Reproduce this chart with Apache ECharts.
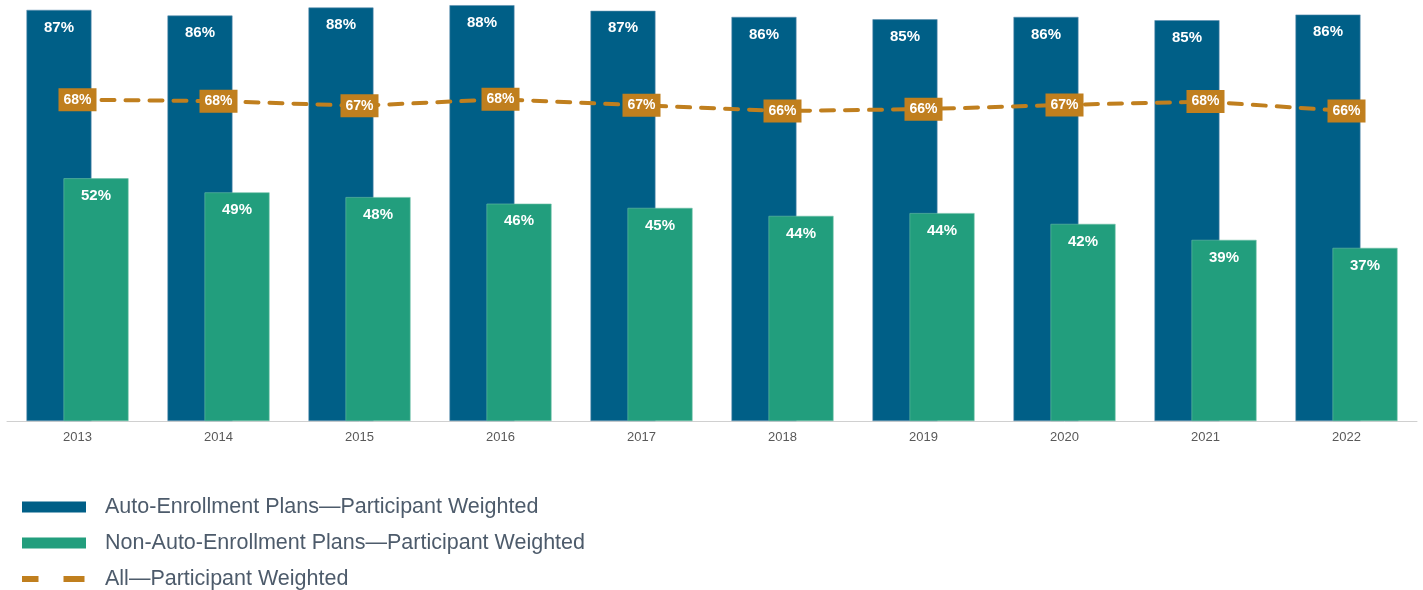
<!DOCTYPE html>
<html>
<head>
<meta charset="utf-8">
<script src="https://cdn.jsdelivr.net/npm/echarts@6/dist/echarts.min.js"></script>
<style>
  html, body { margin: 0; padding: 0; background: #fff; }
  #chart { width: 1423px; height: 590px; }
</style>
</head>
<body>
<div id="chart"></div>
<script>
// hodnoty
const years = ['2013', '2014', '2015', '2016', '2017', '2018', '2019', '2020', '2021', '2022']
const autoPlans = [87.4, 86.2, 87.9, 88.4, 87.2, 85.9, 85.4, 85.9, 85.2, 86.4]
const nonAutoPlans = [51.6, 48.6, 47.6, 46.2, 45.3, 43.6, 44.2, 41.9, 38.5, 36.8]
const allPlans = [68.3, 68.0, 67.0, 68.4, 67.1, 65.9, 66.3, 67.2, 67.9, 65.9]
const seriesNames = [
  'Auto-Enrollment Plans\u2014Participant Weighted',
  'Non-Auto-Enrollment Plans\u2014Participant Weighted',
  'All\u2014Participant Weighted'
]

const BLUE = '#005f87'
const GREEN = '#229e7d'
const ORANGE = '#c07f1e'
const FONT = 'Liberation Sans, Arial, sans-serif'

const chart = echarts.init(document.getElementById('chart'))

const pct = p => Math.round(p.value) + '%'

chart.setOption({
  animation: false,
  textStyle: {fontFamily: FONT},
  grid: {left: 7, right: 6, top: 0, bottom: 169},
  legend: {
    orient: 'vertical',
    left: 22,
    top: 496,
    padding: 0,
    height: 94,
    itemWidth: 64,
    itemHeight: 11,
    itemGap: 14,
    itemStyle: {borderWidth: 0},
    textStyle: {fontSize: 21.5, color: '#4d5b6b', lineHeight: 22, padding: [0, 0, 0, 14]},
    data: [
      {name: seriesNames[0], icon: 'rect', itemStyle: {color: BLUE, borderWidth: 0}},
      {name: seriesNames[1], icon: 'rect', itemStyle: {color: GREEN, borderWidth: 0}},
      {
        name: seriesNames[2],
        // dvě čárky jako v předloze
        icon: 'path://M0,0L0,0M64,11L64,11M0,2.6h16.5v5.8h-16.5zM41.5,2.6h21v5.8h-21z',
        itemStyle: {color: ORANGE, borderWidth: 0}
      }
    ]
  },
  xAxis: {
    type: 'category',
    data: years,
    axisLine: {lineStyle: {color: '#d0d0d0', width: 1}},
    axisTick: {show: false},
    axisLabel: {color: '#595959', fontSize: 13, margin: 10}
  },
  yAxis: {
    type: 'value',
    min: 0,
    max: 89.5,
    show: false,
    splitLine: {show: false}
  },
  series: [
    {
      name: seriesNames[0],
      type: 'bar',
      barWidth: 65,
      barGap: '-43%',
      data: autoPlans,
      itemStyle: {color: BLUE, borderColor: '#5d8fae', borderWidth: 0.6},
      label: {
        show: true, position: 'insideTop', distance: 10,
        color: '#fff', fontWeight: 'bold', fontSize: 15, formatter: pct
      },
      z: 2
    },
    {
      name: seriesNames[1],
      type: 'bar',
      barWidth: 65,
      data: nonAutoPlans,
      itemStyle: {color: GREEN, borderColor: '#6cbfa6', borderWidth: 0.6},
      label: {
        show: true, position: 'insideTop', distance: 10,
        color: '#fff', fontWeight: 'bold', fontSize: 15, formatter: pct
      },
      z: 3
    },
    {
      name: seriesNames[2],
      type: 'line',
      data: allPlans,
      symbol: 'circle',
      symbolSize: 1,
      itemStyle: {color: ORANGE},
      lineStyle: {color: ORANGE, width: 4, type: [13, 11], cap: 'round'},
      label: {
        show: true, position: 'inside',
        color: '#fff', fontWeight: 'bold', fontSize: 14, lineHeight: 16,
        backgroundColor: ORANGE, padding: [4, 5, 3, 5],
        formatter: pct
      },
      z: 5
    }
  ]
})
</script>
</body>
</html>
